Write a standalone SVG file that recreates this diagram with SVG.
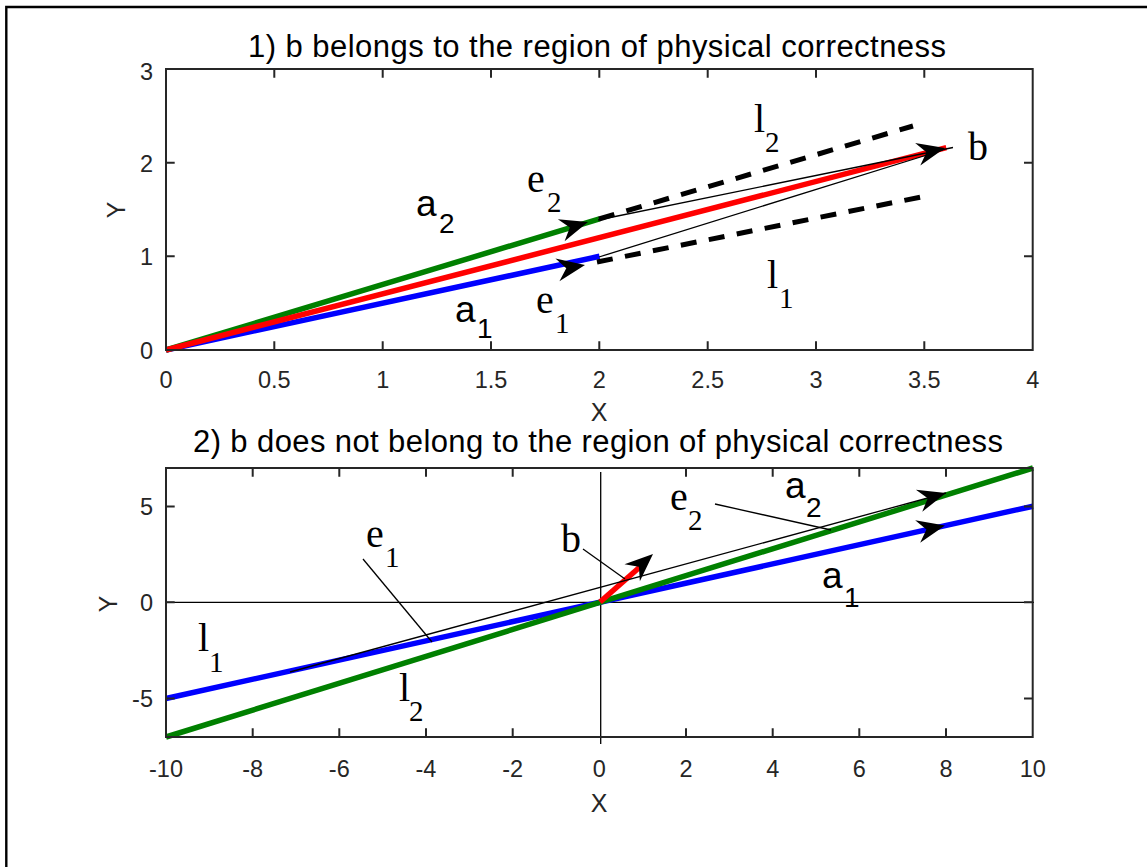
<svg xmlns="http://www.w3.org/2000/svg" xmlns:xlink="http://www.w3.org/1999/xlink" width="1147" height="867" viewBox="0 0 1147 867">
<style>
.box{fill:none;stroke:#262626;stroke-width:2}
.tick{stroke:#262626;stroke-width:2;fill:none}
.tl{font-family:"Liberation Sans",Arial,sans-serif;font-size:23.5px;fill:#262626}
.al{font-family:"Liberation Sans",Arial,sans-serif;font-size:25px;fill:#262626}
.ti{font-family:"Liberation Sans",Arial,sans-serif;font-size:31px;fill:#000}
.sa{font-family:"Liberation Sans",Arial,sans-serif;font-size:37px;fill:#000}
.sas{font-family:"Liberation Sans",Arial,sans-serif;font-size:28px;fill:#000}
.st{font-family:"Liberation Serif","Times New Roman",serif;font-size:40px;fill:#000}
.sts{font-family:"Liberation Serif","Times New Roman",serif;font-size:29px;fill:#000}
.blue{stroke:#0000ff;stroke-width:5.5;fill:none}
.green{stroke:#008000;stroke-width:5.5;fill:none}
.red{stroke:#ff0000;stroke-width:5.5;fill:none}
.dash{stroke:#000;stroke-width:5;stroke-dasharray:16 12.5;fill:none}
.thin{stroke:#000;stroke-width:1.3;fill:none}
</style>
<defs>
<path id="ah" d="M0,0 L-28,-11.5 L-19,0 L-28,11.5 Z" fill="#000"/>
</defs>
<rect x="0" y="0" width="1147" height="867" fill="#fff"/>
<path d="M6.3,867 V7 H1147" fill="none" stroke="#000" stroke-width="2.4"/>

<g id="axes1">
<g id="connectors1">
<path class="blue" d="M166,350 L599.5,256.3"/>
<path class="green" d="M166,350 L599.5,218.9"/>
<path class="red" d="M166,350 L946.3,147.7"/>
<path class="dash" d="M599,219 L913,126"/>
<path class="dash" d="M597,262 L926,196"/>
<path class="thin" d="M598,220 L953,147.5"/>
<path class="thin" d="M599,257 L943,150"/>
<use xlink:href="#ah" transform="translate(588,222) rotate(-17)"/>
<use xlink:href="#ah" transform="translate(585,265) rotate(-10)"/>
<use xlink:href="#ah" transform="translate(945,148) rotate(-13)"/>
</g>
<rect class="box" x="166" y="69" width="866.7" height="281"/>
<path class="tick" d="M274.3,350v-8.7M382.7,350v-8.7M491,350v-8.7M599.3,350v-8.7M707.7,350v-8.7M816,350v-8.7M924.3,350v-8.7
M274.3,69v8.7M382.7,69v8.7M491,69v8.7M599.3,69v8.7M707.7,69v8.7M816,69v8.7M924.3,69v8.7
M166,256.3h8.7M166,162.7h8.7M1032.7,256.3h-8.7M1032.7,162.7h-8.7"/>
<g class="tl" text-anchor="middle">
<text x="166" y="388">0</text><text x="274.3" y="388">0.5</text><text x="382.7" y="388">1</text><text x="491" y="388">1.5</text><text x="599.3" y="388">2</text><text x="707.7" y="388">2.5</text><text x="816" y="388">3</text><text x="924.3" y="388">3.5</text><text x="1032.7" y="388">4</text>
</g>
<g class="tl" text-anchor="end">
<text x="153" y="79.5">3</text><text x="153" y="172">2</text><text x="153" y="265">1</text><text x="153" y="358.5">0</text>
</g>
<text class="al" x="599" y="421" text-anchor="middle">X</text>
<text class="al" x="125" y="210" text-anchor="middle" transform="rotate(-90 125 210)">Y</text>
<text class="ti" x="597" y="57" text-anchor="middle" textLength="698">1) b belongs to the region of physical correctness</text>
</g>

<g id="labels1">
<g id="lab-a2-top"><text class="sa" x="416" y="216">a</text><text class="sas" x="439" y="233">2</text></g>
<g id="lab-a1-top"><text class="sa" x="455" y="322">a</text><text class="sas" x="477" y="338">1</text></g>
<g id="lab-e2-top"><text class="st" x="527" y="192">e</text><text class="sts" x="547" y="212">2</text></g>
<g id="lab-e1-top"><text class="st" x="536" y="313">e</text><text class="sts" x="555" y="333">1</text></g>
<g id="lab-l2-top"><text class="st" x="754" y="132">l</text><text class="sts" x="765" y="152">2</text></g>
<g id="lab-l1-top"><text class="st" x="767" y="288">l</text><text class="sts" x="779" y="308">1</text></g>
<g id="lab-b-top"><text class="st" x="968" y="160">b</text></g>
</g>

<g id="axes2">
<g id="connectors2">
<path class="thin" d="M166,602.3 H1034"/>
<path class="thin" d="M600.7,472 V744"/>
<path class="blue" d="M166,698.5 L1033,506.2"/>
<path class="green" d="M166,737 L1033,468"/>
<path class="red" d="M600,602 L641,566"/>
<path class="thin" d="M290,672 L946,493"/>
<path class="thin" d="M583,549 L625,579"/>
<path class="thin" d="M363,559 L432,642"/>
<path class="thin" d="M715,504 L831,530"/>
<use xlink:href="#ah" transform="translate(946,493) rotate(-16)"/>
<use xlink:href="#ah" transform="translate(945,525.5) rotate(-12.5)"/>
<use xlink:href="#ah" transform="translate(653,554) rotate(-42)"/>
</g>
<rect class="box" x="166" y="468" width="866.7" height="269"/>
<path class="tick" d="M252.7,737v-8.7M339.3,737v-8.7M426,737v-8.7M512.7,737v-8.7M686,737v-8.7M772.7,737v-8.7M859.3,737v-8.7M946,737v-8.7
M252.7,468v8.7M339.3,468v8.7M426,468v8.7M512.7,468v8.7M686,468v8.7M772.7,468v8.7M859.3,468v8.7M946,468v8.7
M166,506.5h8.7M166,602.3h8.7M166,698.5h8.7M1032.7,506.5h-8.7M1032.7,602.3h-8.7M1032.7,698.5h-8.7"/>
<g class="tl" text-anchor="middle">
<text x="166" y="777">-10</text><text x="252.7" y="777">-8</text><text x="339.3" y="777">-6</text><text x="426" y="777">-4</text><text x="512.7" y="777">-2</text><text x="599.3" y="777">0</text><text x="686" y="777">2</text><text x="772.7" y="777">4</text><text x="859.3" y="777">6</text><text x="946" y="777">8</text><text x="1032.7" y="777">10</text>
</g>
<g class="tl" text-anchor="end">
<text x="153" y="514.5">5</text><text x="153" y="610.5">0</text><text x="153" y="706.5">-5</text>
</g>
<text class="al" x="599" y="812" text-anchor="middle">X</text>
<text class="al" x="117" y="604" text-anchor="middle" transform="rotate(-90 117 604)">Y</text>
<text class="ti" x="598" y="452" text-anchor="middle" textLength="810">2) b does not belong to the region of physical correctness</text>
</g>

<g id="labels2">
<g id="lab-e1-bot"><text class="st" x="366" y="547">e</text><text class="sts" x="385" y="567">1</text></g>
<g id="lab-b-bot"><text class="st" x="561" y="552">b</text></g>
<g id="lab-l1-bot"><text class="st" x="198" y="651">l</text><text class="sts" x="209" y="672">1</text></g>
<g id="lab-l2-bot"><text class="st" x="399" y="701">l</text><text class="sts" x="409" y="721">2</text></g>
<g id="lab-e2-bot"><text class="st" x="670" y="510">e</text><text class="sts" x="688" y="530">2</text></g>
<g id="lab-a2-bot"><text class="sa" x="785" y="498">a</text><text class="sas" x="806" y="517">2</text></g>
<g id="lab-a1-bot"><text class="sa" x="822" y="588">a</text><text class="sas" x="844" y="607">1</text></g>
</g>
</svg>
